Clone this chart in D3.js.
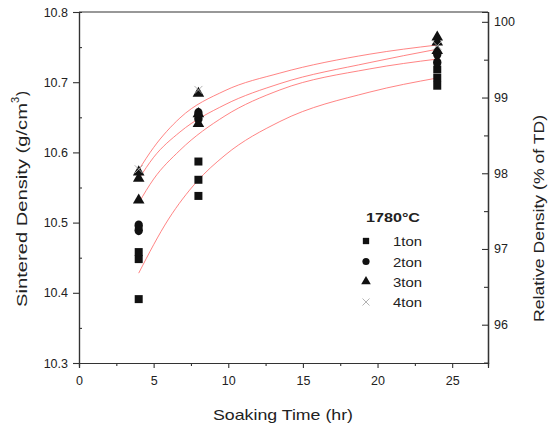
<!DOCTYPE html>
<html>
<head>
<meta charset="utf-8">
<script src="https://cdn.jsdelivr.net/npm/d3@7"></script>
<style>
  body { margin: 0; background: #fff; }
  svg text { font-family: "Liberation Sans", Arial, sans-serif; fill: #222; }
</style>
</head>
<body>
<div id="chart"></div>
<script>
// chart size
var width = 558;
var height = 432;

// theoretical density used for the right hand axis (g/cm3)
var TD = 10.786;

// measured points, [soaking time (hr), density (g/cm3)]
var ton1 = [[4, 10.391], [4, 10.448], [4, 10.458], [8, 10.538], [8, 10.561], [8, 10.587], [24, 10.695], [24, 10.706], [24, 10.718]];
var ton2 = [[4, 10.489], [4, 10.496], [8, 10.648], [8, 10.656], [24, 10.728], [24, 10.740]];
var ton3 = [[4, 10.532], [4, 10.563], [4, 10.572], [8, 10.641], [8, 10.655], [8, 10.684], [24, 10.745], [24, 10.757], [24, 10.764]];
var ton4 = [[4, 10.576], [8, 10.689], [24, 10.752]];

// fitted curves
var fitA = [[4, 10.575], [5, 10.607], [6.76, 10.649], [9.78, 10.688], [13.46, 10.713], [19.49, 10.740], [24, 10.753]];
var fitB = [[4, 10.562], [5, 10.593], [6.76, 10.629], [9.78, 10.668], [13.46, 10.698], [19.49, 10.728], [24, 10.747]];
var fitC = [[4, 10.528], [5, 10.562], [6.76, 10.603], [9.78, 10.652], [13.46, 10.689], [19.49, 10.719], [24, 10.733]];
var fitD = [[4, 10.428], [6, 10.505], [7.88, 10.558], [9.78, 10.596], [13.46, 10.644], [19.49, 10.686], [24, 10.706]];

// tick labels
var xTicks = [0, 5, 10, 15, 20, 25];
var xMinor = [2.5, 7.5, 12.5, 17.5, 22.5];
var yTicks = [10.3, 10.4, 10.5, 10.6, 10.7, 10.8];
var yMinor = [10.35, 10.45, 10.55, 10.65, 10.75];
var rTicks = [96, 97, 98, 99, 100];
var rMinor = [95.5, 96.5, 97.5, 98.5, 99.5];

var legendTitle = "1780°C";
var legendLabels = ["1ton", "2ton", "3ton", "4ton"];

// plot frame (top is a reserved window name, so prefix these)
var pLeft = 79, pRight = 488, pTop = 12, pBottom = 363;

var x = d3.scaleLinear().domain([0, 27.4]).range([pLeft, pRight]);
var y = d3.scaleLinear().domain([10.3, 10.8]).range([pBottom, pTop]);
var yR = d3.scaleLinear().domain([10.3 / TD * 100, 10.8 / TD * 100]).range([pBottom, pTop]);

var svg = d3.select("#chart")
  .append("svg")
  .attr("width", width)
  .attr("height", height);

// axes
function styleAxis(g) {
  g.select(".domain").attr("stroke", "#333").attr("stroke-width", 1.2);
  g.selectAll(".tick line").attr("stroke", "#333").attr("stroke-width", 1.1);
  g.selectAll(".tick text").style("font-size", "12.5px").attr("fill", "#2a2a2a");
}

svg.append("g")
  .attr("transform", "translate(0," + pBottom + ")")
  .call(d3.axisBottom(x).tickValues(xTicks).tickSize(5).tickPadding(8).tickFormat(d3.format("d")))
  .call(styleAxis);
svg.append("g")
  .attr("transform", "translate(0," + pBottom + ")")
  .call(d3.axisBottom(x).tickValues(xMinor).tickSize(3).tickFormat(""))
  .call(styleAxis);

svg.append("g")
  .attr("transform", "translate(" + pLeft + ",0)")
  .call(d3.axisLeft(y).tickValues(yTicks).tickSize(6).tickPadding(5).tickFormat(d3.format(".1f")))
  .call(styleAxis);
svg.append("g")
  .attr("transform", "translate(" + pLeft + ",0)")
  .call(d3.axisRight(y).tickValues(yMinor).tickSize(3).tickFormat(""))
  .call(styleAxis);

svg.append("g")
  .attr("transform", "translate(" + pRight + ",0)")
  .call(d3.axisLeft(yR).tickValues(rTicks).tickSize(6).tickFormat(""))
  .call(styleAxis);
svg.append("g")
  .attr("transform", "translate(" + pRight + ",0)")
  .call(d3.axisRight(yR).tickValues(rTicks).tickSize(0).tickPadding(6).tickFormat(d3.format("d")))
  .call(styleAxis);
svg.append("g")
  .attr("transform", "translate(" + pRight + ",0)")
  .call(d3.axisLeft(yR).tickValues(rMinor).tickSize(4).tickFormat(""))
  .call(styleAxis);

// top frame line
svg.append("line")
  .attr("x1", pLeft).attr("x2", pRight)
  .attr("y1", pTop).attr("y2", pTop)
  .attr("stroke", "#333").attr("stroke-width", 1.2);

// axis titles
svg.append("text")
  .attr("x", 213)
  .attr("y", 420)
  .attr("textLength", 140)
  .attr("lengthAdjust", "spacingAndGlyphs")
  .style("font-size", "15px")
  .text("Soaking Time (hr)");

var yTitle = svg.append("text")
  .attr("transform", "translate(27,307) rotate(-90)")
  .style("font-size", "15px");
yTitle.append("tspan")
  .attr("textLength", 204)
  .attr("lengthAdjust", "spacingAndGlyphs")
  .text("Sintered Density (g/cm");
yTitle.append("tspan").attr("dy", -8).style("font-size", "11px").text("3");
yTitle.append("tspan").attr("dy", 8).attr("dx", 1).text(")");

svg.append("text")
  .attr("transform", "translate(544,322) rotate(-90)")
  .attr("textLength", 207)
  .attr("lengthAdjust", "spacingAndGlyphs")
  .style("font-size", "15px")
  .text("Relative Density (% of TD)");

// fitted curves
var line = d3.line()
  .x(function(d) { return x(d[0]); })
  .y(function(d) { return y(d[1]); })
  .curve(d3.curveMonotoneX);

svg.selectAll(".fit")
  .data([fitA, fitB, fitC, fitD])
  .enter()
  .append("path")
  .attr("class", "fit")
  .attr("d", line)
  .attr("fill", "none")
  .attr("stroke", "#ff6464")
  .attr("stroke-width", 0.8);

// markers
var sq = d3.symbol().type(d3.symbolSquare).size(64);
var tri = d3.symbol().type(d3.symbolTriangle).size(58);

svg.selectAll(".ton1")
  .data(ton1)
  .enter()
  .append("path")
  .attr("d", sq)
  .attr("transform", function(d) { return "translate(" + x(d[0]) + "," + y(d[1]) + ")"; })
  .attr("fill", "#111");

svg.selectAll(".ton2")
  .data(ton2)
  .enter()
  .append("ellipse")
  .attr("cx", function(d) { return x(d[0]); })
  .attr("cy", function(d) { return y(d[1]); })
  .attr("rx", 4.2)
  .attr("ry", 5)
  .attr("fill", "#111");

svg.selectAll(".ton3")
  .data(ton3)
  .enter()
  .append("path")
  .attr("d", tri)
  .attr("transform", function(d) { return "translate(" + x(d[0]) + "," + y(d[1]) + ")"; })
  .attr("fill", "#111");

function cross(g, cx, cy, r) {
  g.append("path")
    .attr("d", "M" + (cx - r) + "," + (cy - r) + "L" + (cx + r) + "," + (cy + r) +
      "M" + (cx - r) + "," + (cy + r) + "L" + (cx + r) + "," + (cy - r))
    .attr("stroke", "#aaa")
    .attr("stroke-width", 0.9);
}
ton4.forEach(function(d) { cross(svg, x(d[0]), y(d[1]), 4); });

// legend
var legend = svg.append("g").attr("transform", "translate(366,0)");
legend.append("text")
  .attr("x", 0)
  .attr("y", 222)
  .attr("textLength", 54)
  .attr("lengthAdjust", "spacingAndGlyphs")
  .style("font-size", "13px")
  .style("font-weight", "bold")
  .text(legendTitle);

var rowY = [241, 261.5, 281.5, 302];
legend.append("path").attr("d", d3.symbol().type(d3.symbolSquare).size(40)).attr("transform", "translate(0," + rowY[0] + ")").attr("fill", "#111");
legend.append("circle").attr("cx", 0).attr("cy", rowY[1]).attr("r", 3.6).attr("fill", "#111");
legend.append("path").attr("d", d3.symbol().type(d3.symbolTriangle).size(40)).attr("transform", "translate(0," + rowY[2] + ")").attr("fill", "#111");
cross(legend, 0, rowY[3], 3.5);

legend.selectAll(".lab")
  .data(legendLabels)
  .enter()
  .append("text")
  .attr("x", 27)
  .attr("y", function(d, i) { return rowY[i] + 5; })
  .attr("textLength", 29)
  .attr("lengthAdjust", "spacingAndGlyphs")
  .style("font-size", "13.5px")
  .attr("fill", "#333")
  .text(function(d) { return d; });
</script>
</body>
</html>
